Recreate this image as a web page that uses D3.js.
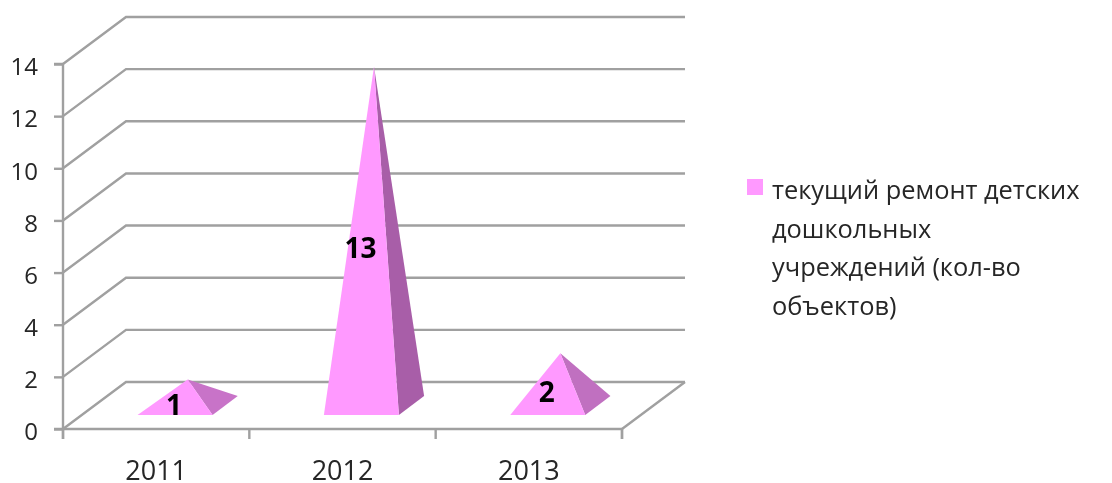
<!DOCTYPE html>
<html><head><meta charset="utf-8">
<script src="https://cdnjs.cloudflare.com/ajax/libs/d3/7.8.5/d3.min.js"></script>
<style>html,body{margin:0;padding:0;background:#fff}svg{display:block;filter:blur(0.4px)}text{font-family:"Open Sans",sans-serif;fill:#262626}</style>
</head><body><svg id="c" width="1112" height="483"></svg>
<script>
const categories = ["2011","2012","2013"];
const values = [1,13,2];
const yTicks = [0,2,4,6,8,10,12,14];
const seriesName = ["текущий ремонт детских","дошкольных","учреждений (кол-во","объектов)"];
const sideColors = ["#c873c8","#a85ea8","#c070c0"];

const svg = d3.select("#c");
const grid = "#a0a0a0";
const x = d3.scaleBand().domain(categories).range([63,622]);
const y = d3.scaleLinear().domain([0,14]).range([429,64]);
const dx = d3.scaleLinear().domain([0,1]).range([0,63]);
const dy = d3.scaleLinear().domain([0,1]).range([0,-47]);
const halfW = 37.5;

// walls and gridlines
const wall = svg.append("g").attr("fill","none").attr("stroke",grid).attr("stroke-width",2.4);
yTicks.forEach(t=>{
  wall.append("path").attr("d",d3.line()([[x.range()[0],y(t)],[x.range()[0]+dx(1),y(t)+dy(1)],[x.range()[1]+dx(1),y(t)+dy(1)]]));
});
wall.append("path").attr("d",d3.line()([[x.range()[1],y(0)],[x.range()[1]+dx(1),y(0)+dy(1)]]));

// axes
const yAxis = svg.append("g").attr("transform","translate(63,0)")
  .call(d3.axisLeft(y).tickValues(yTicks).tickSize(9).tickPadding(16));
const xAxis = svg.append("g").attr("transform",`translate(0,${y(0)})`)
  .call(d3.axisBottom(x).tickSize(10).tickPadding(22));
[yAxis,xAxis].forEach(a=>{
  a.selectAll("path,line").attr("stroke",grid).attr("stroke-width",2.4);
  a.selectAll("text").attr("font-family",'"Open Sans",sans-serif').attr("fill","#262626");
});
yAxis.selectAll("text").attr("font-size",24).attr("dy","0.45em");
xAxis.selectAll("text").attr("font-size",27);
yAxis.select(".domain").attr("d",`M-9,${y(14)}H0V${y(0)}H-9`);
xAxis.select(".domain").attr("d",`M63,10V0H622V10`);
// x-axis ticks sit at category boundaries
xAxis.selectAll(".tick line").remove();
const bounds = [...categories.map(c=>x(c)),x.range()[1]];
xAxis.selectAll(".bound").data(bounds).join("line").attr("class","bound")
  .attr("x1",d=>d).attr("x2",d=>d).attr("y1",0).attr("y2",10)
  .attr("stroke",grid).attr("stroke-width",2.4);

// pyramids
const pyr = svg.append("g");
categories.forEach((c,i)=>{
  const v = values[i], cx = x(c)+x.bandwidth()/2;
  const P = d=>[cx+dx(d),y(0)+dy(d)];
  const front=P(0.3), back=P(0.7), mid=P(0.5);
  const apex=[mid[0],mid[1]-(y(0)-y(v))];
  const fl=[front[0]-halfW,front[1]], fr=[front[0]+halfW,front[1]], br=[back[0]+halfW,back[1]];
  pyr.append("path").attr("d",d3.line()([fr,br,apex])+"Z").attr("fill",sideColors[i]);
  pyr.append("path").attr("d",d3.line()([fl,fr,apex])+"Z").attr("fill","#ff99ff");
  svg.append("text").attr("x",front[0]-1).attr("y",front[1]-(y(0)-y(v))/2+13)
    .attr("text-anchor","middle").attr("font-size",28).attr("font-weight",700)
    .style("fill","#000").text(v);
});

// legend
svg.append("rect").attr("x",747).attr("y",179).attr("width",16).attr("height",16).attr("fill","#ff99ff");
const lineY = d3.scalePoint().domain(d3.range(seriesName.length)).range([199,315]);
svg.selectAll(".lg").data(seriesName).join("text").attr("class","lg")
  .attr("x",772).attr("y",(d,i)=>lineY(i)).attr("font-size",25.4).text(d=>d);
</script></body></html>
